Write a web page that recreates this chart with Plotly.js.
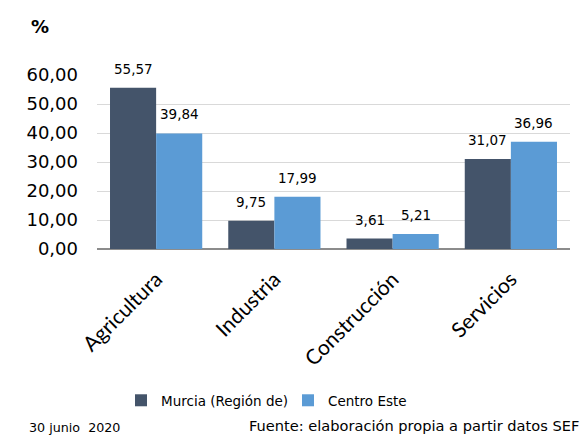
<!DOCTYPE html>
<html><head><meta charset="utf-8">
<script src="https://cdn.plot.ly/plotly-3.0.1.min.js"></script>
<style>body{margin:0;background:#fff}#c{width:580px;height:435px}</style>
</head><body><div id="c"></div>
<script>
const categories = ["Agricultura", "Industria", "Construcción", "Servicios"];
const murcia = [55.57, 9.75, 3.61, 31.07];
const centroEste = [39.84, 17.99, 5.21, 36.96];
const seriesNames = ["Murcia (Región de)", "Centro Este"];
const tickVals = [0, 10, 20, 30, 40, 50, 60];

const fmt = v => v.toFixed(2).replace('.', ',');
const font = "DejaVu Sans, Verdana, sans-serif";
const catFont = "Lato, sans-serif";
const colors = ['#44546A', '#5B9BD5'];

const L = 97, R = 10, W = 580, H = 435, T = 75, B = 186;
const plotW = W - L - R, plotH = H - T - B;
const bargap = 0.22;
const barW = plotW / categories.length * (1 - bargap) / 2;

const traces = [murcia, centroEste].map((vals, i) => ({
  type:'bar', x:categories, y:vals, name:seriesNames[i], marker:{color:colors[i]}, hoverinfo:'none'
}));

const labelAnns = [];
[murcia, centroEste].forEach((vals, i) => {
  vals.forEach((v, j) => {
    labelAnns.push({x:categories[j], y:v, xref:'x', yref:'y', text:fmt(v), showarrow:false,
      xanchor:'center', yanchor:'bottom', xshift:(i === 0 ? -1 : 1) * barW / 2, yshift:9,
      font:{size:13.5, family:font, color:'#000'}});
  });
});

const py = y => (T + plotH - y) / plotH;
const px = x => (x - L) / plotW;

const layout = {
  width:W, height:H,
  margin:{l:L, r:R, t:T, b:B},
  paper_bgcolor:'#fff', plot_bgcolor:'#fff',
  font:{family:font, color:'#000'},
  barmode:'group', bargap:bargap, bargroupgap:0,
  separators:',.',
  xaxis:{tickangle:-45, tickfont:{size:21, family:catFont}, showline:false, ticks:'', showgrid:false, ticklabelstandoff:13},
  yaxis:{range:[0,60], tickvals:tickVals, tickformat:'.2f', tickfont:{size:18, family:font},
    gridcolor:'#D9D9D9', gridwidth:1, zeroline:true, zerolinecolor:'#8C8C8C', zerolinewidth:2,
    showline:false, ticklabelstandoff:18},
  showlegend:true,
  legend:{orientation:'h', x:px(121), xanchor:'left', y:py(385), yanchor:'top',
    font:{size:13.5, family:font}, traceorder:'normal', itemwidth:30, entrywidth:122},
  annotations:labelAnns.concat([
    {text:'<b>%</b>', xref:'paper', yref:'paper', x:px(40), y:py(27), xanchor:'center', yanchor:'middle', showarrow:false, font:{size:18, family:font}},
    {text:'30 junio  2020', xref:'paper', yref:'paper', x:px(27), y:py(427), xanchor:'left', yanchor:'middle', showarrow:false, font:{size:12.7, family:font}},
    {text:'Fuente: elaboración propia a partir datos SEF', xref:'paper', yref:'paper', x:px(247), y:py(425), xanchor:'left', yanchor:'middle', showarrow:false, font:{size:14.6, family:font}}
  ])
};
Plotly.newPlot('c', traces, layout, {displayModeBar:false});
</script></body></html>
